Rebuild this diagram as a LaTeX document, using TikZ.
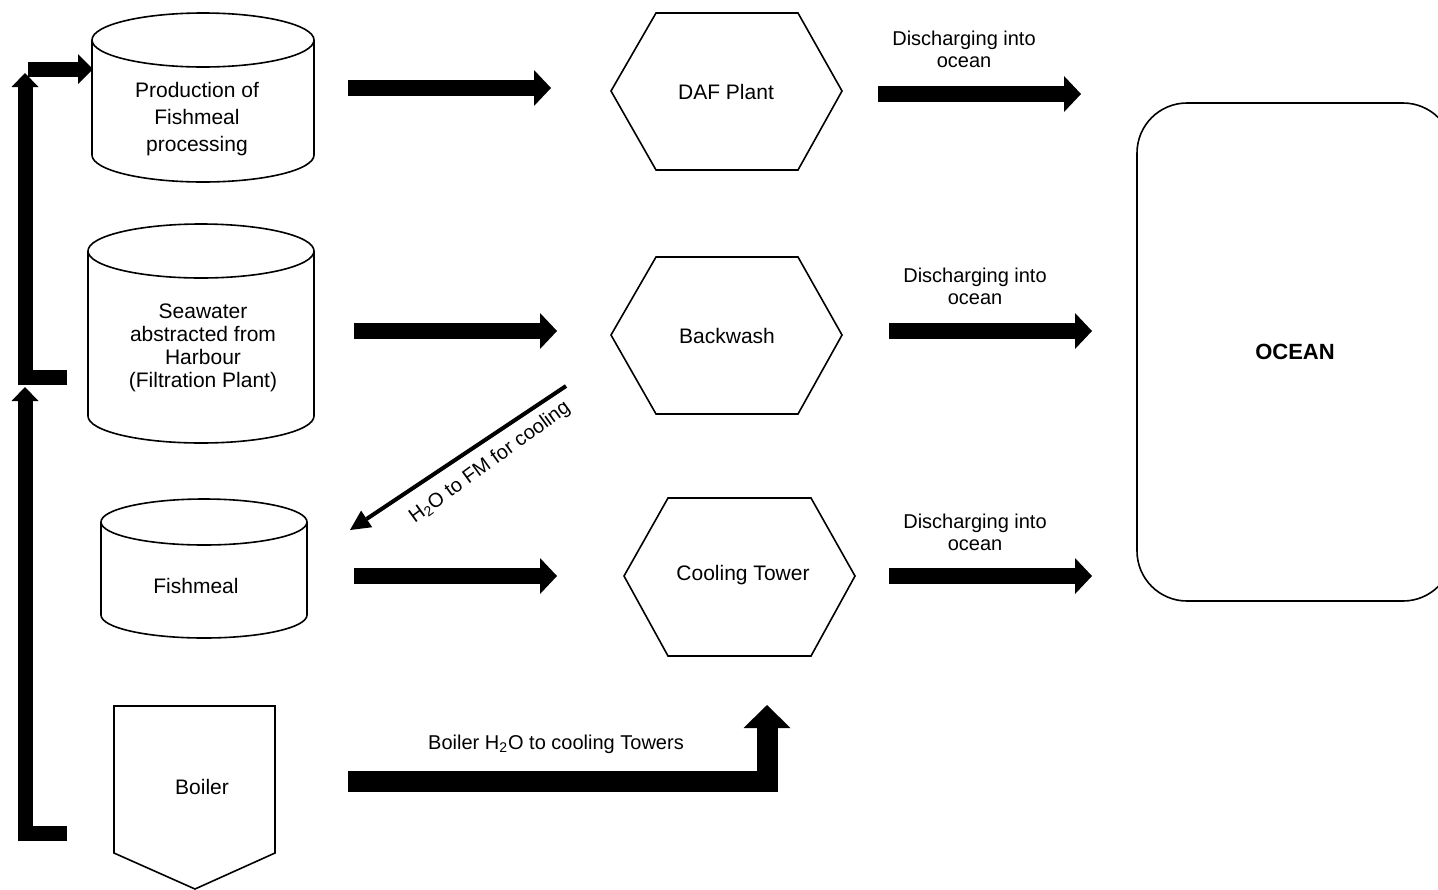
\documentclass[tikz,border=0pt]{standalone}
\usepackage{fontspec}
\setmainfont{Liberation Sans}
\usetikzlibrary{arrows.meta}
\begin{document}
\begin{tikzpicture}[x=0.5pt,y=-0.5pt,
  shapeline/.style={draw=black,line width=0.8pt},
  lbl/.style={font=\fontsize{10.5}{12.5}\selectfont,align=center,inner sep=0pt},
  blockarrow/.style={draw=black,line width=8pt,-{Triangle[width=18pt,length=8.5pt,line width=0pt]}},
  bracketarrow/.style={draw=black,line width=7.5pt,line join=miter,-{Triangle[width=13.5pt,length=7pt,line width=0pt]}},
  ]
\useasboundingbox (0,0) rectangle (1438,889);
\clip (0,0) rectangle (1438,889);

% ---- cylinders ----
\draw[shapeline] (203,40) ellipse[x radius=111,y radius=27];
\draw[shapeline] (92,40) -- (92,155) arc[start angle=180,end angle=0,x radius=111,y radius=27] -- (314,40);
\node[lbl,font=\fontsize{10.5}{13.5}\selectfont] (prod) at (197,119) {Production of\\Fishmeal\\processing};

\draw[shapeline] (201,251) ellipse[x radius=113,y radius=27];
\draw[shapeline] (88,251) -- (88,416) arc[start angle=180,end angle=0,x radius=113,y radius=27] -- (314,251);
\node[lbl,font=\fontsize{10.5}{11.5}\selectfont] (sea) at (203,348) {Seawater\\abstracted from\\Harbour\\(Filtration Plant)};

\draw[shapeline] (204,522) ellipse[x radius=103,y radius=23];
\draw[shapeline] (101,522) -- (101,615) arc[start angle=180,end angle=0,x radius=103,y radius=23] -- (307,522);
\node[lbl] (fish) at (196,586) {Fishmeal};

% ---- boiler ----
\draw[shapeline] (114,706) -- (275,706) -- (275,853) -- (195,889) -- (114,853) -- cycle;
\node[lbl] (boiler) at (202,787) {Boiler};

% ---- hexagons ----
\draw[shapeline] (611,91) -- (656,13) -- (798,13) -- (842,91) -- (798,170) -- (656,170) -- cycle;
\node[lbl] (daf) at (726,92) {DAF Plant};
\draw[shapeline] (611,335) -- (656,257) -- (798,257) -- (842,335) -- (798,414) -- (656,414) -- cycle;
\node[lbl] (back) at (727,336) {Backwash};
\draw[shapeline] (624,576) -- (668,498) -- (811,498) -- (855,576) -- (811,656) -- (668,656) -- cycle;
\node[lbl] (cool) at (743,575) {Cooling Tower};

% ---- ocean ----
\draw[shapeline,rounded corners=25pt] (1137,103) rectangle (1453,601);
\node[lbl,font=\fontsize{11}{13}\selectfont\bfseries] (ocean) at (1295,352) {OCEAN};

% ---- block arrows ----
\coordinate (a1s) at (348,88);  \coordinate (a1e) at (551,88);
\coordinate (a2s) at (878,94);  \coordinate (a2e) at (1081,94);
\coordinate (a3s) at (354,331); \coordinate (a3e) at (557,331);
\coordinate (a4s) at (889,331); \coordinate (a4e) at (1092,331);
\coordinate (a5s) at (354,576); \coordinate (a5e) at (557,576);
\coordinate (a6s) at (889,576); \coordinate (a6e) at (1092,576);
\draw[blockarrow] (a1s) -- (a1e);
\draw[blockarrow] (a2s) -- (a2e);
\draw[blockarrow] (a3s) -- (a3e);
\draw[blockarrow] (a4s) -- (a4e);
\draw[blockarrow] (a5s) -- (a5e);
\draw[blockarrow] (a6s) -- (a6e);

\node[lbl,font=\fontsize{10}{11}\selectfont] (d1) at (964,49) {Discharging into\\ocean};
\node[lbl,font=\fontsize{10}{11}\selectfont] (d2) at (975,286) {Discharging into\\ocean};
\node[lbl,font=\fontsize{10}{11}\selectfont] (d3) at (975,532) {Discharging into\\ocean};

% ---- boiler bent arrow ----
\coordinate (bs) at (348,781);
\coordinate (be) at (767,705);
\draw[draw=black,line width=10.5pt,line join=miter,-{Triangle[width=23.5pt,length=11.5pt,line width=0pt]}] (bs) -| (be);
\node[lbl,font=\fontsize{10}{12}\selectfont] (blab) at (556,744) {Boiler H\textsubscript{2}O to cooling Towers};

% ---- diagonal arrow ----
\coordinate (ds) at (566,386);
\coordinate (de) at (350,530);
\draw[draw=black,line width=2pt,-{Triangle[width=10pt,length=10pt,line width=0pt]}] (ds) -- (de);
\node[lbl,font=\fontsize{10}{12}\selectfont,rotate=36] (dlab) at (490,463) {H\textsubscript{2}O to FM for cooling};

% ---- left bracket arrows ----
\coordinate (t1) at (67,377);
\coordinate (t2) at (25,377);
\coordinate (t3) at (25,73);
\draw[bracketarrow] (t1) -- (t2) -- (t3);
\coordinate (u1) at (67,833);
\coordinate (u2) at (25,833);
\coordinate (u3) at (25,387);
\draw[bracketarrow] (u1) -- (u2) -- (u3);
\coordinate (s1) at (28,69);
\coordinate (s2) at (93,69);
\draw[draw=black,line width=7.5pt,-{Triangle[width=15pt,length=7.5pt,line width=0pt]}] (s1) -- (s2);
\end{tikzpicture}
\end{document}
